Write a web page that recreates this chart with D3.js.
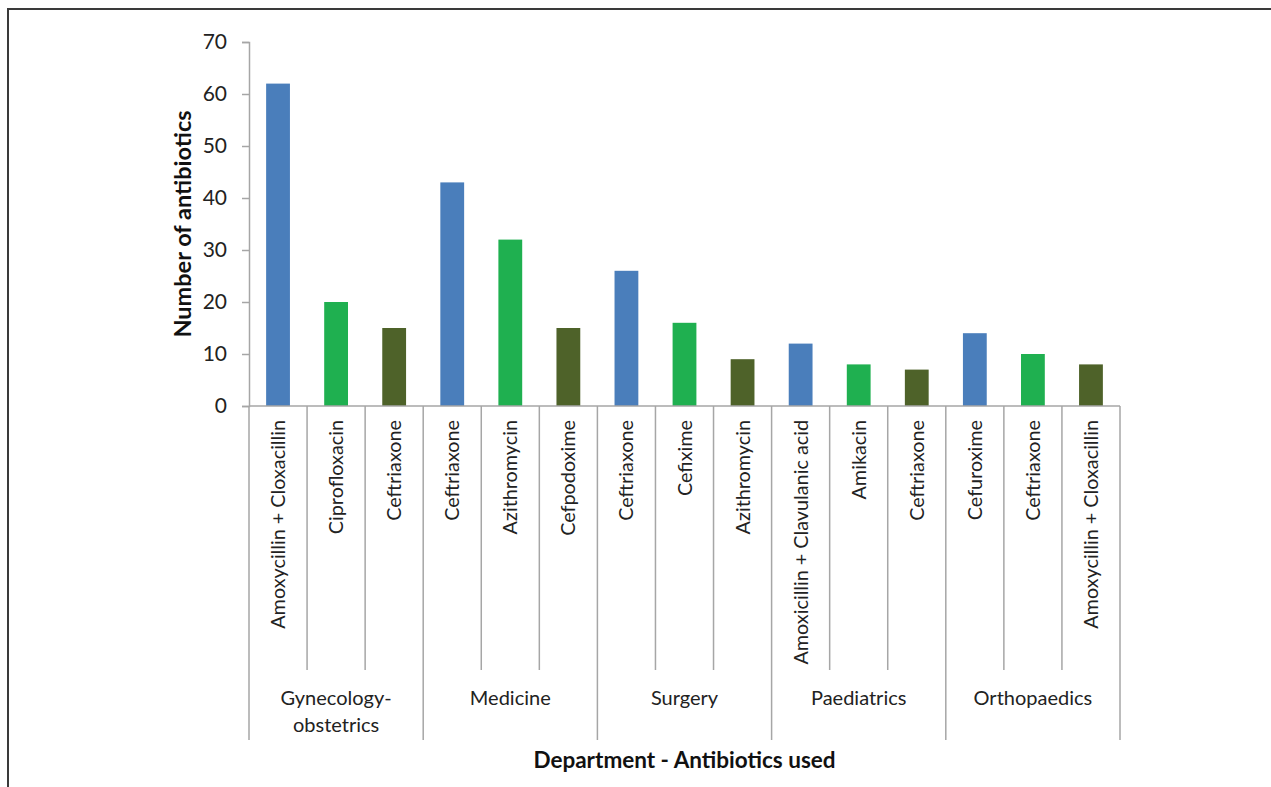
<!DOCTYPE html>
<html>
<head>
<meta charset="utf-8">
<script src="https://cdn.jsdelivr.net/npm/d3@7"></script>
<style>
  body { margin: 0; background: #fff; }
  svg { display: block; font-family: Lato, 'Open Sans', sans-serif; }
</style>
</head>
<body>
<div id="chart"></div>
<script>
const departments = ['Gynecology-\nobstetrics', 'Medicine', 'Surgery', 'Paediatrics', 'Orthopaedics'];
const antibiotics = [
  ['Amoxycillin + Cloxacillin', 'Ciprofloxacin', 'Ceftriaxone'],
  ['Ceftriaxone', 'Azithromycin', 'Cefpodoxime'],
  ['Ceftriaxone', 'Cefixime', 'Azithromycin'],
  ['Amoxicillin + Clavulanic acid', 'Amikacin', 'Ceftriaxone'],
  ['Cefuroxime', 'Ceftriaxone', 'Amoxycillin + Cloxacillin'],
];
const counts = [
  [62, 20, 15],
  [43, 32, 15],
  [26, 16, 9],
  [12, 8, 7],
  [14, 10, 8],
];
const rankColors = ['#4a7ebb', '#1fb050', '#4e6229'];
const yTicks = [0, 10, 20, 30, 40, 50, 60, 70];

const W = 1271, H = 787;
const plotLeft = 249, plotRight = 1120, plotTop = 42, plotBase = 406;
const AXIS_COLOR = '#a6a6a6';

const rows = [];
departments.forEach((dep, i) => {
  antibiotics[i].forEach((name, j) => {
    rows.push({ key: i + '-' + j, dep: i, rank: j, name: name, value: counts[i][j] });
  });
});

const svg = d3.select('#chart').append('svg')
  .attr('width', W)
  .attr('height', H);

// outer frame
svg.append('rect')
  .attr('x', 8).attr('y', 9)
  .attr('width', 1300).attr('height', 800)
  .attr('fill', 'none')
  .attr('stroke', '#3a3a3a')
  .attr('stroke-width', 2);

const x = d3.scaleBand()
  .domain(rows.map(d => d.key))
  .range([plotLeft, plotRight])
  .paddingInner(0.59)
  .paddingOuter(0.295);

const step = (plotRight - plotLeft) / rows.length;

const y = d3.scaleLinear()
  .domain([0, 70])
  .range([plotBase, plotTop]);

// y axis
const yAxis = svg.append('g')
  .attr('transform', `translate(${plotLeft},0)`)
  .call(d3.axisLeft(y).tickValues(yTicks).tickSize(7).tickSizeOuter(7).tickPadding(15));

yAxis.selectAll('text')
  .attr('font-size', 21)
  .attr('font-family', 'Lato, sans-serif')
  .attr('fill', '#222');
yAxis.selectAll('line, path').attr('stroke', AXIS_COLOR).attr('stroke-width', 1.5);

// bars
svg.append('g').selectAll('rect')
  .data(rows)
  .join('rect')
  .attr('x', d => x(d.key))
  .attr('width', x.bandwidth())
  .attr('y', d => y(d.value))
  .attr('height', d => y(0) - y(d.value))
  .attr('fill', d => rankColors[d.rank]);

// x axis baseline
const xg = svg.append('g');
xg.append('line')
  .attr('x1', plotLeft).attr('x2', plotRight)
  .attr('y1', plotBase).attr('y2', plotBase)
  .attr('stroke', AXIS_COLOR).attr('stroke-width', 1.5);

// category separators, longer ones between departments
d3.range(rows.length + 1).forEach(k => {
  const isGroup = k % 3 === 0;
  xg.append('line')
    .attr('x1', plotLeft + k * step).attr('x2', plotLeft + k * step)
    .attr('y1', plotBase).attr('y2', isGroup ? 740 : 670)
    .attr('stroke', AXIS_COLOR).attr('stroke-width', 1.5);
});

// antibiotic labels
svg.append('g').selectAll('text')
  .data(rows)
  .join('text')
  .attr('transform', d => `translate(${x(d.key) + x.bandwidth() / 2 + 7},420) rotate(-90)`)
  .attr('text-anchor', 'end')
  .attr('font-size', 19.8)
  .attr('fill', '#222')
  .text(d => d.name);

// department labels
svg.append('g').selectAll('text')
  .data(departments)
  .join('text')
  .attr('x', (d, i) => plotLeft + (i * 3 + 1.5) * step)
  .attr('y', 705)
  .attr('text-anchor', 'middle')
  .attr('font-size', 20)
  .attr('fill', '#222')
  .each(function(d) {
    const t = d3.select(this);
    d.split('\n').forEach((line, n) => {
      t.append('tspan')
        .attr('x', t.attr('x'))
        .attr('dy', n === 0 ? 0 : 27)
        .text(line);
    });
  });

// axis titles
svg.append('text')
  .attr('x', (plotLeft + plotRight) / 2)
  .attr('y', 768)
  .attr('text-anchor', 'middle')
  .attr('font-size', 22.5)
  .attr('font-weight', 'bold')
  .attr('fill', '#111')
  .text('Department - Antibiotics used');

svg.append('text')
  .attr('transform', `translate(191,${(plotTop + plotBase) / 2}) rotate(-90)`)
  .attr('text-anchor', 'middle')
  .attr('font-size', 23.5)
  .attr('font-weight', 'bold')
  .attr('fill', '#111')
  .text('Number of antibiotics');
</script>
</body>
</html>
